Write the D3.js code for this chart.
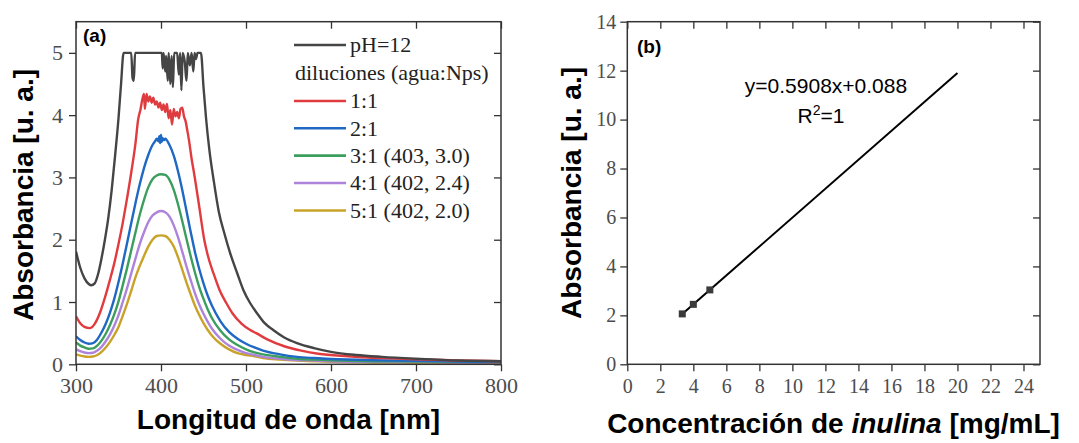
<!DOCTYPE html>
<html>
<head>
<meta charset="utf-8">
<script src="https://cdn.jsdelivr.net/npm/d3@7/dist/d3.min.js"></script>
<style>
  body { margin: 0; background: #fff; }
  .tick line { stroke: #333; stroke-width: 1.3px; }
  .title { font-family: "Liberation Sans", Arial, sans-serif; font-weight: bold; fill: #000; }
</style>
</head>
<body>
<div id="chart"></div>
<script>
const SERIF = '"Liberation Serif", "Times New Roman", Times, Tinos, "Nimbus Roman", FreeSerif, "Noto Serif", "DejaVu Serif", serif';

// ---- panel (a): UV-vis spectra, [wavelength nm, absorbance] ----
const spectrumPH12 = [
  [300,1.81],[305,1.55],[310,1.38],[315,1.29],[318,1.27],[322,1.30],[326,1.45],[330,1.70],[334,2.00],
  [338,2.35],[342,2.80],[346,3.35],[350,3.95],[353,4.50],[356,5.0],[365,5.0],[366.5,4.60],[368,4.55],
  [369.5,5.0],[401,5.0],[402,4.75],[403,5.0],[405,4.70],[406,4.95],[408,4.55],[409,5.0],[411,4.50],
  [412.5,4.95],[414,4.45],[415.5,5.0],[419,5.0],[421,4.65],[422.5,5.0],[424,4.40],[425.5,5.0],
  [428,4.85],[430,4.55],[431.5,5.0],[434,4.80],[436,5.0],[438,4.70],[439.5,5.0],[441,4.90],[443,5.0],
  [447,5.0],[450,4.45],[453,3.95],[457,3.43],[462,2.95],
  [468,2.45],[475,2.08],[481,1.80],[490,1.45],[497,1.19],[505,0.98],[513,0.82],[522,0.66],[532,0.55],
  [545,0.43],[560,0.34],[580,0.26],[600,0.20],[630,0.15],[660,0.12],[700,0.09],[750,0.06],[800,0.05]
];
const spectrum11 = [
  [300,0.77],[305,0.66],[310,0.60],[316,0.58],[322,0.65],[328,0.82],[334,1.07],[340,1.36],[345,1.62],
  [350,1.93],[355,2.27],[359,2.58],[365,3.08],[370,3.55],[373,3.92],[376,4.10],[378,4.25],[380,4.34],
  [381,4.10],[383,4.34],[385,4.22],[387,4.30],[389,4.20],[391,4.28],[393,4.17],[395,4.22],[397,4.12],
  [399,4.20],[401,4.08],[403,4.17],[405,4.05],[407,4.18],[409,3.95],[411,4.08],[413,3.85],[415,4.10],
  [417,3.98],[419,4.05],[421,3.95],[423,4.10],[425,4.12],[427,3.98],[429,3.90],[431,3.75],[433,3.59],
  [436,3.30],[439,3.06],[445,2.53],[451,1.99],[455,1.75],[462,1.45],[469,1.19],[477,0.98],[484,0.82],
  [495,0.65],[505,0.55],[512,0.50],[525,0.40],[545,0.29],[565,0.22],[585,0.17],[620,0.13],[660,0.10],
  [700,0.08],[750,0.06],[800,0.05]
];
const spectrum21 = [
  [300,0.45],[305,0.39],[310,0.35],[315,0.33],[320,0.34],[325,0.40],[330,0.51],[335,0.65],[340,0.83],
  [345,1.05],[350,1.32],[355,1.62],[360,1.94],[365,2.27],[370,2.59],[375,2.89],[380,3.15],[385,3.36],
  [390,3.52],[393,3.58],[395,3.62],[397,3.58],[398,3.66],[399,3.55],[400,3.68],[401,3.57],[402,3.63],
  [404,3.60],[405,3.62],[410,3.52],[415,3.35],[420,3.10],[425,2.80],[430,2.46],[435,2.12],[440,1.80],
  [445,1.53],[450,1.30],[455,1.10],[460,0.94],[470,0.69],[480,0.52],[490,0.41],[500,0.33],[510,0.27],
  [520,0.22],[540,0.16],[560,0.12],[580,0.10],[600,0.085],[650,0.065],[700,0.055],[750,0.045],[800,0.04]
];
const spectrum31 = [
  [300,0.35],[305,0.30],[310,0.27],[315,0.25],[320,0.255],[325,0.30],[330,0.38],[335,0.49],[340,0.63],
  [345,0.80],[350,1.01],[355,1.27],[360,1.54],[365,1.83],[370,2.12],[375,2.40],[380,2.64],[385,2.84],
  [390,2.97],[395,3.03],[400,3.05],[405,3.04],[410,2.96],[415,2.80],[420,2.57],[425,2.30],[430,2.01],
  [435,1.73],[440,1.47],[445,1.24],[450,1.05],[455,0.88],[460,0.74],[470,0.54],[480,0.40],[490,0.31],
  [500,0.24],[510,0.19],[520,0.16],[540,0.12],[560,0.09],[580,0.075],[600,0.065],[650,0.05],[700,0.045],
  [750,0.04],[800,0.035]
];
const spectrum41 = [
  [300,0.24],[305,0.21],[310,0.19],[315,0.18],[320,0.185],[325,0.22],[330,0.28],[335,0.37],[340,0.48],
  [345,0.62],[350,0.79],[355,1.00],[360,1.22],[365,1.46],[370,1.70],[375,1.93],[380,2.12],[385,2.28],
  [390,2.39],[395,2.44],[400,2.46],[405,2.44],[410,2.37],[415,2.23],[420,2.04],[425,1.81],[430,1.57],
  [435,1.35],[440,1.14],[445,0.96],[450,0.81],[455,0.68],[460,0.57],[470,0.41],[480,0.30],[490,0.23],
  [500,0.18],[510,0.15],[520,0.12],[540,0.09],[560,0.07],[580,0.06],[600,0.05],[650,0.04],[700,0.035],
  [750,0.03],[800,0.03]
];
const spectrum51 = [
  [300,0.16],[305,0.14],[310,0.125],[315,0.12],[320,0.125],[325,0.15],[330,0.20],[335,0.27],[340,0.36],
  [345,0.47],[350,0.60],[355,0.78],[360,0.97],[365,1.18],[370,1.40],[375,1.58],[380,1.74],[385,1.89],
  [390,2.00],[395,2.06],[400,2.07],[405,2.06],[410,2.00],[415,1.89],[420,1.72],[425,1.52],[430,1.31],
  [435,1.12],[440,0.94],[445,0.79],[450,0.66],[455,0.55],[460,0.46],[470,0.33],[480,0.24],[490,0.18],
  [500,0.15],[510,0.13],[520,0.10],[540,0.075],[560,0.06],[580,0.05],[600,0.04],[650,0.03],[700,0.025],
  [750,0.02],[800,0.02]
];
const seriesNames = ["pH=12", "1:1", "2:1", "3:1 (403, 3.0)", "4:1 (402, 2.4)", "5:1 (402, 2.0)"];
const seriesColors = ["#454545", "#e03c3f", "#1f68c4", "#3c9e5c", "#ad83dc", "#c9a328"];
const seriesData = [spectrumPH12, spectrum11, spectrum21, spectrum31, spectrum41, spectrum51];
const legendHeading = "diluciones (agua:Nps)";

// ---- panel (b): calibration ----
const concentration = [3.33, 4.0, 5.0];
const absorbance = [2.06, 2.45, 3.04];
const fitLine = [[3.33, 2.055], [20, 11.90]];
const fitEquation = "y=0.5908x+0.088";

const W = 1079, H = 443;
const svg = d3.select("#chart").append("svg").attr("width", W).attr("height", H);

// closed box: outward labelled ticks on bottom/left, inward mirror ticks on top/right
function drawFrame(x, y, opt) {
  const [x0, x1] = x.range();
  const [y0, y1] = y.range();
  const g = svg.append("g");
  const xMinor = d3.range(opt.xDom[0], opt.xDom[1] + 1e-9, opt.xMinor);
  const yMinor = d3.range(opt.yDom[0], opt.yDom[1] + 1e-9, opt.yMinor);
  const fmt = d3.format("d");

  const bottom = g.append("g").attr("transform", `translate(0,${y0})`);
  bottom.call(d3.axisBottom(x).tickValues(xMinor).tickSize(4).tickFormat(""));
  bottom.call(d3.axisBottom(x).tickValues(opt.xMajor).tickSize(7).tickPadding(opt.xPad).tickFormat(fmt));
  const left = g.append("g").attr("transform", `translate(${x0},0)`);
  left.call(d3.axisLeft(y).tickValues(yMinor).tickSize(4).tickFormat(""));
  left.call(d3.axisLeft(y).tickValues(opt.yMajor).tickSize(7).tickPadding(opt.yPad).tickFormat(fmt));
  const top = g.append("g").attr("transform", `translate(0,${y1})`);
  top.call(d3.axisBottom(x).tickValues(xMinor).tickSize(4).tickFormat(""));
  top.call(d3.axisBottom(x).tickValues(opt.xMajor).tickSize(7).tickFormat(""));
  const right = g.append("g").attr("transform", `translate(${x1},0)`);
  right.call(d3.axisLeft(y).tickValues(yMinor).tickSize(4).tickFormat(""));
  right.call(d3.axisLeft(y).tickValues(opt.yMajor).tickSize(7).tickFormat(""));

  g.selectAll(".domain").remove();
  g.selectAll(".tick text")
    .style("font-family", SERIF)
    .style("font-size", opt.font + "px")
    .style("fill", "#4d4d4d");
  g.append("rect")
    .attr("x", x0).attr("y", y1)
    .attr("width", x1 - x0).attr("height", y0 - y1)
    .attr("fill", "none").attr("stroke", "#333").attr("stroke-width", 1.5);
  return g;
}

// ---------- panel (a) ----------
const xA = d3.scaleLinear().domain([300, 800]).range([76, 501]);
const yA = d3.scaleLinear().domain([0, 5.5]).range([364.3, 21.7]);

svg.append("clipPath").attr("id", "clipA").append("rect")
  .attr("x", 76).attr("y", 21.7).attr("width", 425).attr("height", 342.6);

const line = d3.line().x(d => xA(d[0])).y(d => yA(d[1])).curve(d3.curveMonotoneX);
svg.append("g").attr("clip-path", "url(#clipA)")
  .selectAll("path")
  .data(seriesData.slice().reverse())
  .join("path")
  .attr("d", line)
  .attr("fill", "none")
  .attr("stroke", (d, i) => seriesColors[seriesData.length - 1 - i])
  .attr("stroke-width", 2.4)
  .attr("stroke-linejoin", "round");

drawFrame(xA, yA, {
  xDom: [300, 800], yDom: [0, 5.5],
  xMajor: [300, 400, 500, 600, 700, 800], xMinor: 20,
  yMajor: [0, 1, 2, 3, 4, 5], yMinor: 0.5,
  xPad: 6, yPad: 6, font: 22
});

// legend
const legend = svg.append("g").style("font-family", SERIF)
  .style("font-size", "22px").style("fill", "#222");
const rowY = [45, 101, 128.3, 155.6, 183, 210.5];
legend.selectAll("line.sw")
  .data(seriesNames)
  .join("line")
  .attr("class", "sw")
  .attr("x1", 294).attr("x2", 346)
  .attr("y1", (d, i) => rowY[i]).attr("y2", (d, i) => rowY[i])
  .attr("stroke", (d, i) => seriesColors[i]).attr("stroke-width", 2.6);
legend.selectAll("text.lab")
  .data(seriesNames)
  .join("text")
  .attr("class", "lab")
  .attr("x", 350).attr("y", (d, i) => rowY[i]).attr("dy", "0.33em")
  .text(d => d);
legend.append("text").attr("x", 295).attr("y", 73).attr("dy", "0.33em").text(legendHeading);

svg.append("text").attr("class", "title").attr("x", 83).attr("y", 42)
  .style("font-size", "19px").text("(a)");
svg.append("text").attr("class", "title")
  .attr("x", 288.5).attr("y", 429).attr("text-anchor", "middle")
  .style("font-size", "28px").text("Longitud de onda [nm]");
svg.append("text").attr("class", "title")
  .attr("transform", "translate(33,195) rotate(-90)").attr("text-anchor", "middle")
  .style("font-size", "28px").text("Absorbancia [u. a.]");

// ---------- panel (b) ----------
const xB = d3.scaleLinear().domain([0, 25]).range([627.3, 1040]);
const yB = d3.scaleLinear().domain([0, 14]).range([364.3, 21.7]);

drawFrame(xB, yB, {
  xDom: [0, 25], yDom: [0, 14],
  xMajor: d3.range(0, 25, 2), xMinor: 1,
  yMajor: d3.range(0, 15, 2), yMinor: 1,
  xPad: 8, yPad: 4, font: 20
});

svg.append("path")
  .datum(fitLine)
  .attr("d", d3.line().x(d => xB(d[0])).y(d => yB(d[1])))
  .attr("stroke", "#000").attr("stroke-width", 2).attr("fill", "none");

svg.selectAll("rect.pt")
  .data(concentration)
  .join("rect")
  .attr("class", "pt")
  .attr("x", (d) => xB(d) - 3.5)
  .attr("y", (d, i) => yB(absorbance[i]) - 3.5)
  .attr("width", 7).attr("height", 7)
  .attr("fill", "#3a3a3a");

const eq = svg.append("g").style("font-family", '"Liberation Sans", Arial, sans-serif')
  .style("font-size", "21px").style("fill", "#000");
eq.append("text").attr("x", 826).attr("y", 93).attr("text-anchor", "middle").text(fitEquation);
const r2 = eq.append("text").attr("x", 821).attr("y", 123).attr("text-anchor", "middle");
r2.append("tspan").text("R");
r2.append("tspan").attr("dy", -8).style("font-size", "14px").text("2");
r2.append("tspan").attr("dy", 8).text("=1");

svg.append("text").attr("class", "title").attr("x", 637).attr("y", 53)
  .style("font-size", "19px").text("(b)");
svg.append("text").attr("class", "title")
  .attr("transform", "translate(581,193) rotate(-90)").attr("text-anchor", "middle")
  .style("font-size", "28px").text("Absorbancia [u. a.]");
const xt = svg.append("text").attr("class", "title")
  .attr("x", 833.5).attr("y", 433).attr("text-anchor", "middle")
  .style("font-size", "28px");
xt.append("tspan").text("Concentración de ");
xt.append("tspan").style("font-style", "italic").text("inulina");
xt.append("tspan").text(" [mg/mL]");
</script>
</body>
</html>
